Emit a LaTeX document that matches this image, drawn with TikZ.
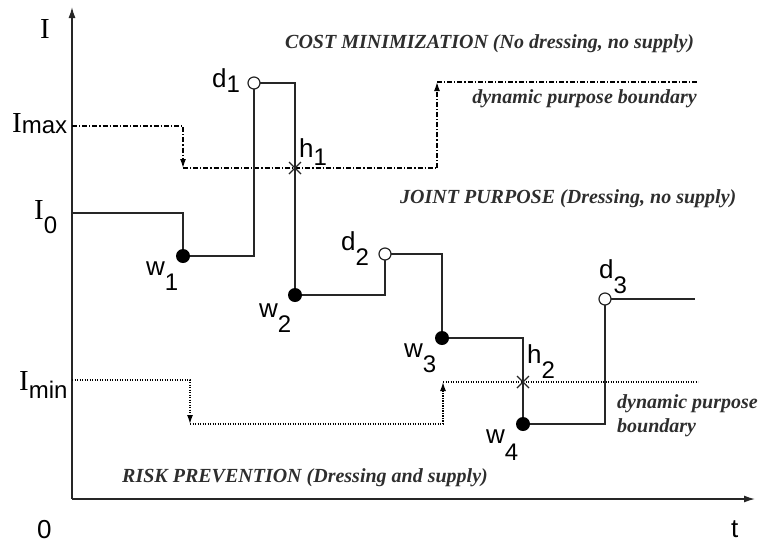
\documentclass[tikz,border=0pt]{standalone}
\usepackage{fontspec}
\setmainfont{Liberation Serif}
\newfontfamily\lsans{Liberation Sans}
\usetikzlibrary{arrows.meta}
\definecolor{ink}{HTML}{262626}
\definecolor{txt}{HTML}{2E2E2E}
\newcommand\mylab[3]{{\lsans\fontsize{26}{26}\selectfont #1\raisebox{-#3pt}{\fontsize{24}{24}\selectfont #2}}}
\newcommand\myilab[3]{{\fontsize{29}{29}\selectfont I}{\lsans\raisebox{-#3pt}{\fontsize{24}{24}\selectfont #2}}}
\begin{document}
\begin{tikzpicture}[x=1pt,y=-1pt,
  axis/.style={draw=ink,line width=1.4pt,-{Latex[length=11pt,width=7pt]}},
  curve/.style={draw=ink,line width=1.8pt},
  thin curve/.style={draw=ink,line width=1.2pt},
  wdot/.style={circle,fill=black,inner sep=0pt,minimum size=14pt},
  dcirc/.style={circle,draw=ink,fill=white,line width=1.2pt,inner sep=0pt,minimum size=12pt},
  bndA/.style={draw=black,line width=1.3pt,dash pattern=on 5pt off 2pt on 1.2pt off 2pt},
  bndB/.style={draw=black,line width=1.4pt,dash pattern=on 1.2pt off 1.3pt},
  tipA/.style={-{Latex[length=9pt,width=6pt]}},
  cross/.style={draw=ink,line width=1.3pt},
  lab/.style={inner sep=0pt,anchor=base west},
  itx/.style={inner sep=0pt,text=txt,font=\fontsize{20}{24}\selectfont\bfseries\itshape}]
\useasboundingbox (0,0) rectangle (761,542);
% axes
\coordinate (O) at (72,499);
\coordinate (Ytop) at (72,7);
\coordinate (Xend) at (755,499);
\draw[axis] (O) -- (Ytop);
\draw[axis] (O) -- (Xend);
% axis labels
\node[lab] (lI) at (40,38) {\fontsize{29}{29}\selectfont I};
\node[lab] (lImax) at (12,132) {\myilab{I}{max}{1}};
\node[lab] (lI0) at (34,219) {\myilab{I}{0}{14}};
\node[lab] (lImin) at (19,390) {\myilab{I}{min}{8}};
\node[lab] (lzero) at (37,538) {\lsans\fontsize{26}{26}\selectfont 0};
\node[lab] (lt) at (731,537) {\lsans\fontsize{26}{26}\selectfont t};
% upper boundary (dash-dot)
\coordinate (a0) at (72,126);
\coordinate (a1) at (183,168);
\coordinate (a2) at (437,168);
\coordinate (a3) at (437,82);
\coordinate (a4) at (697,82);
\draw[bndA,tipA] (a0) -| (a1);
\draw[bndA] (a1) -- (a2);
\draw[bndA,tipA] (a2) -- (a3);
\draw[bndA] (a3) -- (a4);
% lower boundary (dotted)
\coordinate (b0) at (72,380);
\coordinate (b1) at (190,424);
\coordinate (b2) at (443,424);
\coordinate (b3) at (443,382);
\coordinate (b4) at (698,382);
\draw[bndB,tipA] (b0) -| (b1);
\draw[bndB] (b1) -- (b2);
\draw[bndB,tipA] (b2) -- (b3);
\draw[bndB] (b3) -- (b4);
% main path points
\coordinate (s0) at (72,213);
\coordinate (w1) at (183,256);
\coordinate (d1) at (254,83);
\coordinate (w2) at (295,295);
\coordinate (d2) at (385,254);
\coordinate (w3) at (442,338);
\coordinate (w4) at (523,424);
\coordinate (d3) at (605,299);
\coordinate (end) at (695,299);
\draw[curve] (s0) -| (w1) -| (d1) -| (w2) -| (d2) -| (w3) -| (w4) -| (d3);
\draw[thin curve] (d3) -- (end);
% crosses
\coordinate (h1) at (295,168);
\coordinate (h2) at (523,382);
\draw[cross] ([shift={(-6,-6)}]h1) -- ([shift={(6,6)}]h1) ([shift={(-6,6)}]h1) -- ([shift={(6,-6)}]h1);
\draw[cross] ([shift={(-6,-6)}]h2) -- ([shift={(6,6)}]h2) ([shift={(-6,6)}]h2) -- ([shift={(6,-6)}]h2);
% markers
\node[wdot] (nw1) at (w1) {};
\node[wdot] (nw2) at (w2) {};
\node[wdot] (nw3) at (w3) {};
\node[wdot] (nw4) at (w4) {};
\node[dcirc] (nd1) at (d1) {};
\node[dcirc] (nd2) at (d2) {};
\node[dcirc] (nd3) at (d3) {};
% point labels
\node[lab] (ld1) at (212,87) {\mylab{d}{1}{5}};
\node[lab] (ld2) at (341,250) {\mylab{d}{2}{15}};
\node[lab] (ld3) at (599,278) {\mylab{d}{3}{15}};
\node[lab] (lh1) at (299,157) {\mylab{h}{1}{8}};
\node[lab] (lh2) at (527,363) {\mylab{h}{2}{15}};
\node[lab] (lw1) at (146,275) {\mylab{w}{1}{15}};
\node[lab] (lw2) at (259,317) {\mylab{w}{2}{15}};
\node[lab] (lw3) at (404,357) {\mylab{w}{3}{15}};
\node[lab] (lw4) at (486,443) {\mylab{w}{4}{17}};
% region texts
\node[itx,anchor=base west] (tcost) at (285,48) {COST MINIMIZATION (No dressing, no supply)};
\node[itx,anchor=base east] (tdpb1) at (697,103) {dynamic purpose boundary};
\node[itx,anchor=base west] (tjoint) at (400,203) {JOINT PURPOSE (Dressing, no supply)};
\node[itx,anchor=base west] (trisk) at (122,482) {RISK PREVENTION (Dressing and supply)};
\node[itx,anchor=base west] (tdpb2) at (617,408) {dynamic purpose};
\node[itx,anchor=base west] (tdpb3) at (617,432) {boundary};
\end{tikzpicture}
\end{document}
